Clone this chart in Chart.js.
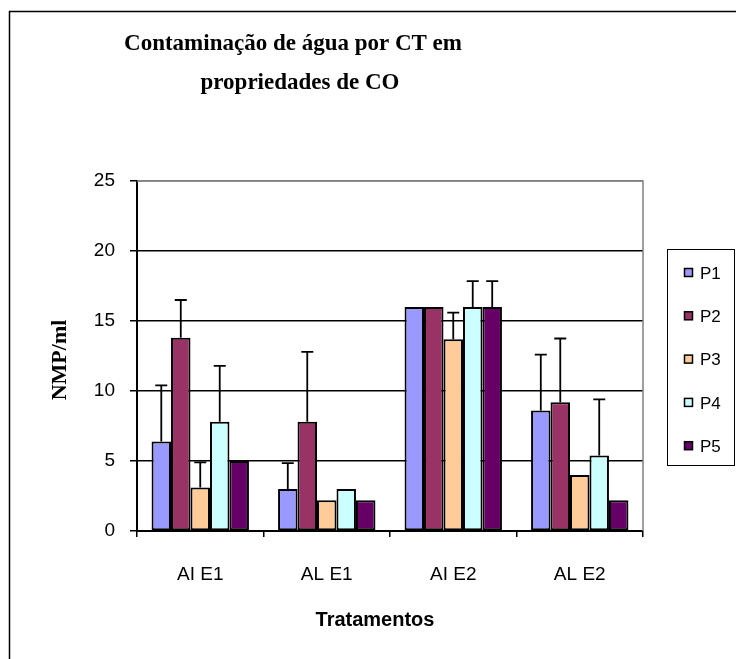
<!DOCTYPE html>
<html>
<head>
<meta charset="utf-8">
<script src="https://cdn.jsdelivr.net/npm/chart.js@4"></script>
<style>
  html, body { margin: 0; padding: 0; background: #fff; }
  #wrap { width: 736px; height: 659px; }
</style>
</head>
<body>
<div id="wrap"><canvas id="agua" width="736" height="659"></canvas></div>
<script>
const tratamentos = ['AI E1', 'AL E1', 'AI E2', 'AL E2'];
const series = ['P1', 'P2', 'P3', 'P4', 'P5'];
const yTicks = [0, 5, 10, 15, 20, 25];

const p1 = [6.4, 3.0, 16.0, 8.6];
const p2 = [13.8, 7.8, 16.0, 9.2];
const p3 = [3.1, 2.2, 13.7, 4.0];
const p4 = [7.8, 3.0, 16.0, 5.4];
const p5 = [5.0, 2.2, 16.0, 2.2];

// upper error (only the + side is drawn)
const errP1 = [4.0, 1.85, null, 4.0];
const errP2 = [2.7, 5.0, null, 4.55];
const errP3 = [1.8, null, 1.9, null];
const errP4 = [4.0, null, 1.85, 4.0];
const errP5 = [null, null, 1.85, null];

const colors = ['#9999FF', '#993366', '#FFCC99', '#CCFFFF', '#660066'];
const values = [p1, p2, p3, p4, p5];
const errors = [errP1, errP2, errP3, errP4, errP5];

const sans = "'Liberation Sans', Arial, sans-serif";
const serif = "'Liberation Serif', 'Times New Roman', serif";

const ctx = document.getElementById('agua');

// outer frame, plot border, titles, legend and error bars
const extras = {
    id: 'extras',
    beforeDraw(chart) {
        const c = chart.ctx;
        c.save();
        c.strokeStyle = '#000';
        c.lineWidth = 1.5;
        c.strokeRect(9.5, 11.5, 800, 700);
        c.restore();
    },
    beforeDatasetsDraw(chart) {
        const c = chart.ctx, a = chart.chartArea;
        c.save();
        c.strokeStyle = '#808080';
        c.lineWidth = 1.5;
        c.beginPath();
        c.moveTo(a.left, a.top);
        c.lineTo(a.right, a.top);
        c.lineTo(a.right, a.bottom);
        c.stroke();
        c.restore();
    },
    afterDatasetsDraw(chart) {
        const c = chart.ctx;
        const y = chart.scales.y;
        c.save();
        c.strokeStyle = '#000';
        c.lineWidth = 1.8;
        chart.data.datasets.forEach((ds, i) => {
            const meta = chart.getDatasetMeta(i);
            meta.data.forEach((bar, j) => {
                const e = ds.err[j];
                if (e == null) return;
                const yTop = y.getPixelForValue(ds.data[j] + e);
                c.beginPath();
                c.moveTo(bar.x, bar.y);
                c.lineTo(bar.x, yTop);
                c.moveTo(bar.x - 6, yTop);
                c.lineTo(bar.x + 6, yTop);
                c.stroke();
            });
        });
        c.restore();
    },
    afterDraw(chart) {
        const c = chart.ctx;
        c.save();
        c.fillStyle = '#000';
        c.textAlign = 'center';
        c.textBaseline = 'alphabetic';
        c.font = 'bold 23px ' + serif;
        c.fillText('Contaminação de água por CT em', 293, 50);
        c.fillText('propriedades de CO', 300, 89);

        c.font = 'bold 20px ' + sans;
        c.textBaseline = 'middle';
        c.fillText('Tratamentos', 375, 620);

        c.save();
        c.translate(66, 360);
        c.rotate(-Math.PI / 2);
        c.textBaseline = 'alphabetic';
        c.font = 'bold 22px ' + serif;
        c.fillText('NMP/ml', 0, 0);
        c.restore();

        // legend
        c.strokeStyle = '#000';
        c.lineWidth = 1;
        c.strokeRect(667.5, 249.5, 67, 216);
        c.font = '17px ' + sans;
        c.textAlign = 'left';
        c.textBaseline = 'middle';
        chart.data.datasets.forEach((ds, i) => {
            const cy = 273 + i * 43.3;
            c.fillStyle = ds.backgroundColor;
            c.fillRect(684.5, cy - 4.5, 8, 8);
            c.lineWidth = 1.5;
            c.strokeRect(684.5, cy - 4.5, 8, 8);
            c.fillStyle = '#000';
            c.fillText(ds.label, 700, cy + 1);
        });
        c.restore();
    }
};

new Chart(ctx, {
    type: 'bar',
    data: {
        labels: tratamentos,
        datasets: series.map((s, i) => ({
            label: s,
            data: values[i],
            err: errors[i],
            backgroundColor: colors[i],
            borderColor: '#000',
            borderWidth: 2,
            borderSkipped: false,
            categoryPercentage: 0.77,
            barPercentage: 1.0
        }))
    },
    options: {
        responsive: false,
        animation: false,
        layout: {
            padding: { left: 0, right: 93, top: 181, bottom: 0 }
        },
        plugins: {
            legend: { display: false },
            title: { display: false },
            tooltip: { enabled: false }
        },
        scales: {
            x: {
                afterFit(s) { s.height = 128; },
                grid: {
                    offset: true,
                    drawOnChartArea: false,
                    drawTicks: true,
                    tickLength: 6,
                    tickColor: '#000',
                    lineWidth: 1.5
                },
                border: { display: true, color: '#000', width: 2 },
                ticks: {
                    color: '#000',
                    padding: 26,
                    font: { family: sans, size: 19 }
                }
            },
            y: {
                min: 0,
                max: 25,
                afterFit(s) { s.width = 137; },
                afterBuildTicks(s) { s.ticks = yTicks.map(v => ({ value: v })); },
                grid: {
                    color: (g) => g.tick && g.tick.value === 25 ? '#808080' : '#000',
                    lineWidth: 1.5,
                    tickLength: 7,
                    tickColor: '#000'
                },
                border: { display: true, color: '#000', width: 2 },
                ticks: {
                    color: '#000',
                    padding: 15,
                    font: { family: sans, size: 19 }
                }
            }
        }
    },
    plugins: [extras]
});
</script>
</body>
</html>
